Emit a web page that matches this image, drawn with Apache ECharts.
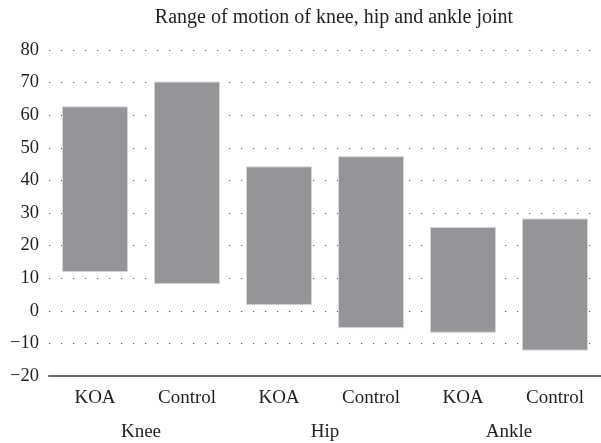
<!DOCTYPE html>
<html><head><meta charset="utf-8">
<script src="https://cdn.jsdelivr.net/npm/echarts@6/dist/echarts.min.js"></script>
<style>html,body{margin:0;padding:0;background:#fff}#c{width:601px;height:443px}</style>
</head><body><div id="c"></div>
<script>
var categories = ['KOA','Control','KOA','Control','KOA','Control'];
var groups = ['Knee','Hip','Ankle'];
var lows  = [11.9, 8.2, 1.8, -5.3, -6.7, -12.2];
var highs = [62.7, 70.3, 44.3, 47.4, 25.7, 28.3];
var yTicks = [-20, 80, 10];
var title = 'Range of motion of knee, hip and ankle joint';

var spans = highs.map(function(h,i){ return +(h - lows[i]).toFixed(2); });
var font = 'Liberation Serif';
var chart = echarts.init(document.getElementById('c'), null, {renderer:'canvas'});
chart.setOption({
  animation:false,
  backgroundColor:'#fff',
  title:{text:title, left:329, top:3, textAlign:'center',
    textStyle:{fontFamily:font, fontSize:20, fontWeight:'normal', color:'#231f20'}},
  grid:{left:49, right:-4, top:50, bottom:67, containLabel:false},
  xAxis:[{
    type:'category', data:categories, position:'bottom',
    axisLine:{show:true, onZero:false, lineStyle:{color:'#6d6e71', width:2}},
    axisTick:{show:false},
    axisLabel:{fontFamily:font, fontSize:19, color:'#231f20', margin:13}
  },{
    type:'category', data:groups, position:'bottom', offset:34,
    axisLine:{show:false}, axisTick:{show:false},
    axisLabel:{fontFamily:font, fontSize:19, color:'#231f20', margin:13}
  }],
  yAxis:{
    type:'value', min:yTicks[0], max:yTicks[1], interval:yTicks[2],
    axisLine:{show:false}, axisTick:{show:false},
    axisLabel:{fontFamily:font, fontSize:18.5, color:'#231f20', margin:10,
      formatter:function(v){ return v < 0 ? '\u2212' + Math.abs(v) : String(v); }},
    splitLine:{show:true, lineStyle:{color:'#58595b', width:1.2, type:[1.2,10.8]}}
  },
  series:[{
    type:'bar', stack:'r', stackStrategy:'all', data:lows, barWidth:66,
    itemStyle:{color:'transparent'}, silent:true
  },{
    type:'bar', stack:'r', stackStrategy:'all', data:spans, barWidth:66,
    itemStyle:{color:'#939598', borderColor:'#d1d3d4', borderWidth:1}
  }]
});
</script></body></html>
